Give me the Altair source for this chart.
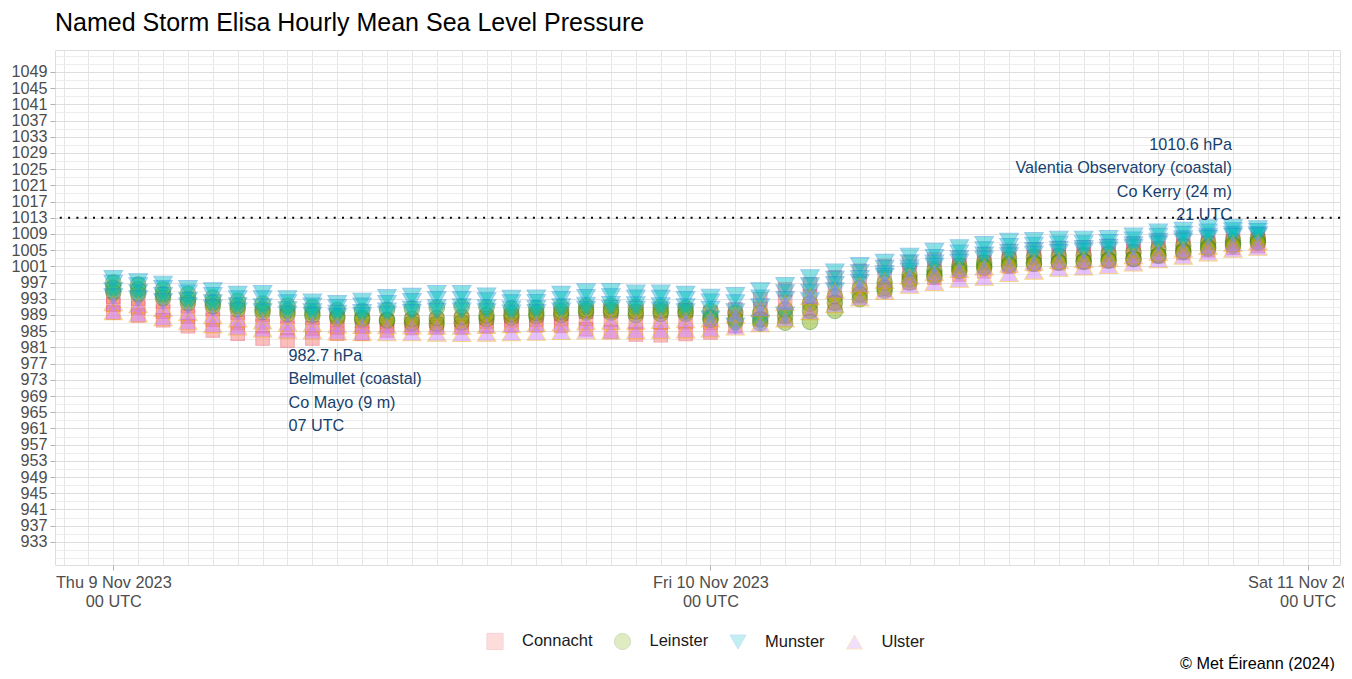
import altair as alt
import pandas as pd

# ---------------- data (hPa, hourly from 00 UTC Thu 9 Nov 2023) ----------------
hours = list(range(47))

provinces = ["Connacht", "Leinster", "Munster", "Ulster"]

connacht_knock = [993.5, 993.0, 992.2, 991.2, 990.5, 989.6, 989.0, 988.7, 988.3, 987.8, 987.5, 987.3,
                  987.5, 987.6, 987.8, 988.3, 988.7, 989.0, 989.3, 989.8, 990.0, 989.8, 990.0, 990.3,
                  989.5, 990.4, 992.9, 995.3, 996.6, 998.3, 999.9, 1001.1, 1002.0, 1002.7, 1003.2, 1004.0,
                  1004.8, 1005.2, 1005.5, 1005.7, 1006.0, 1006.6, 1007.3, 1007.8, 1008.4, 1008.8, 1008.9]
connacht_mace = [991.5, 990.8, 989.8, 988.6, 987.8, 987.0, 986.2, 985.8, 985.7, 985.9, 986.2, 986.4,
                 986.6, 986.8, 987.0, 987.4, 987.7, 987.9, 988.0, 988.1, 987.8, 987.3, 987.1, 987.2,
                 987.0, 988.5, 990.5, 992.2, 993.5, 995.0, 996.8, 998.3, 999.5, 1000.5, 1001.2, 1002.0,
                 1002.8, 1003.3, 1003.6, 1003.9, 1004.1, 1004.7, 1005.4, 1006.0, 1006.7, 1007.2, 1007.5]
connacht_belmullet = [989.6, 988.9, 987.7, 986.2, 985.2, 984.4, 983.2, 982.7, 983.2, 984.4, 984.4, 985.2,
                      985.8, 986.0, 986.0, 986.3, 986.5, 986.5, 986.3, 985.5, 984.8, 984.2, 984.0, 984.3,
                      984.7, 986.3, 987.9, 988.7, 990.4, 992.0, 993.7, 995.3, 997.0, 998.2, 999.0, 999.8,
                      1001.0, 1001.5, 1001.8, 1002.0, 1002.3, 1002.8, 1003.5, 1004.3, 1005.0, 1005.6, 1006.0]

leinster_dublin = [997.0, 996.5, 995.3, 994.2, 993.3, 992.5, 991.8, 991.3, 990.9, 990.2, 990.0, 990.3,
                   990.6, 990.8, 991.0, 990.9, 990.6, 990.7, 991.0, 991.2, 991.3, 991.0, 991.0, 990.7,
                   990.0, 989.5, 989.5, 990.3, 991.8, 993.6, 995.6, 997.0, 998.8, 1000.0, 1001.2, 1002.0,
                   1002.9, 1003.3, 1003.5, 1003.7, 1004.0, 1004.5, 1005.3, 1006.1, 1006.9, 1007.4, 1007.9]
leinster_mullingar = [995.7, 995.3, 994.1, 992.9, 992.0, 991.2, 990.4, 990.0, 989.6, 988.7, 988.3, 987.8,
                      987.0, 986.8, 987.2, 988.0, 988.4, 988.7, 989.0, 989.6, 989.6, 989.0, 989.3, 989.3,
                      988.3, 987.9, 987.9, 988.7, 990.0, 992.0, 994.1, 995.7, 997.8, 999.0, 1000.3, 1001.1,
                      1001.6, 1001.9, 1002.1, 1002.3, 1002.6, 1002.9, 1003.8, 1004.8, 1005.8, 1006.6, 1007.2]
leinster_oakpark = [994.6, 994.2, 993.2, 992.0, 991.2, 990.4, 989.7, 989.2, 988.9, 988.2, 987.9, 987.6,
                    988.0, 988.2, 988.5, 988.9, 989.2, 989.5, 989.8, 990.2, 990.2, 989.8, 990.0, 989.9,
                    987.8, 987.3, 987.0, 987.1, 987.3, 990.0, 992.9, 995.0, 997.0, 998.5, 999.8, 1000.6,
                    1001.2, 1001.6, 1001.9, 1002.1, 1002.4, 1002.8, 1003.6, 1004.5, 1005.4, 1006.1, 1006.8]

munster_valentia = [998.0, 997.2, 996.6, 995.5, 995.0, 994.1, 994.3, 993.0, 992.2, 991.8, 992.4, 993.3,
                    993.6, 994.3, 994.3, 993.7, 993.1, 993.2, 994.1, 994.7, 994.8, 994.4, 994.4, 994.1,
                    993.4, 993.8, 995.0, 996.3, 998.2, 999.6, 1001.2, 1002.0, 1003.5, 1004.7, 1005.6, 1006.4,
                    1007.2, 1007.4, 1007.7, 1007.7, 1007.9, 1008.5, 1009.5, 1009.9, 1010.5, 1010.6, 1010.3]
munster_sherkin = [996.8, 996.2, 995.5, 994.4, 993.8, 993.0, 993.0, 992.0, 991.2, 990.8, 991.2, 991.8,
                   992.3, 992.8, 992.8, 992.5, 992.0, 992.1, 992.8, 993.3, 993.5, 993.2, 993.1, 992.8,
                   992.2, 992.0, 993.2, 994.5, 996.2, 997.8, 999.4, 1000.5, 1001.9, 1003.2, 1004.3, 1005.1,
                   1005.9, 1006.2, 1006.5, 1006.6, 1006.9, 1007.5, 1008.4, 1008.9, 1009.5, 1009.8, 1009.6]
munster_cork = [995.0, 994.5, 993.8, 992.6, 992.0, 991.3, 991.0, 990.3, 989.8, 989.4, 989.6, 990.0,
                990.4, 990.8, 991.0, 990.8, 990.5, 990.6, 991.0, 991.4, 991.6, 991.5, 991.3, 991.0,
                990.4, 989.8, 991.0, 992.8, 994.6, 996.5, 998.0, 999.2, 1000.6, 1001.8, 1002.9, 1003.8,
                1004.5, 1004.9, 1005.2, 1005.4, 1005.7, 1006.3, 1007.2, 1007.8, 1008.4, 1008.9, 1008.8]
munster_shannon = [993.5, 993.0, 992.3, 991.3, 990.7, 990.0, 989.8, 989.2, 988.9, 988.6, 988.8, 989.2,
                   989.6, 989.9, 990.0, 989.8, 989.5, 989.6, 990.0, 990.4, 990.6, 990.4, 990.2, 989.8,
                   988.0, 986.3, 987.0, 989.0, 992.5, 995.0, 997.0, 998.5, 999.8, 1001.0, 1002.0, 1002.8,
                   1003.6, 1004.0, 1004.4, 1004.7, 1005.0, 1005.6, 1006.5, 1007.2, 1007.9, 1008.4, 1008.5]

ulster_malin = [992.0, 991.5, 990.6, 989.6, 988.8, 988.0, 987.5, 987.0, 986.8, 986.5, 986.4, 986.3,
                986.3, 986.2, 986.2, 986.4, 986.6, 986.8, 987.0, 987.3, 987.4, 987.4, 987.6, 987.8,
                988.0, 989.0, 990.5, 992.0, 993.5, 995.0, 996.4, 997.5, 998.6, 999.4, 1000.2, 1000.8,
                1001.5, 1002.0, 1002.4, 1002.7, 1003.0, 1003.6, 1004.4, 1005.2, 1005.9, 1006.6, 1007.0]
ulster_finner = [989.8, 989.2, 988.3, 987.3, 986.6, 986.0, 985.5, 985.2, 985.0, 984.8, 984.6, 984.6,
                 984.6, 984.5, 984.4, 984.5, 984.6, 984.7, 984.9, 985.0, 985.0, 985.1, 985.2, 985.3,
                 985.5, 986.0, 986.8, 988.0, 989.8, 991.5, 993.2, 994.8, 996.3, 997.0, 997.8, 998.3,
                 999.2, 999.8, 1000.5, 1000.8, 1001.2, 1001.8, 1002.6, 1003.5, 1004.3, 1005.2, 1005.7]

stations = [
    ("Connacht", "Knock Airport", connacht_knock),
    ("Connacht", "Mace Head", connacht_mace),
    ("Connacht", "Belmullet", connacht_belmullet),
    ("Leinster", "Dublin Airport", leinster_dublin),
    ("Leinster", "Mullingar", leinster_mullingar),
    ("Leinster", "Oak Park", leinster_oakpark),
    ("Munster", "Valentia Observatory", munster_valentia),
    ("Munster", "Sherkin Island", munster_sherkin),
    ("Munster", "Cork Airport", munster_cork),
    ("Munster", "Shannon Airport", munster_shannon),
    ("Ulster", "Malin Head", ulster_malin),
    ("Ulster", "Finner", ulster_finner),
]

# annotations (min and max)
ann_hours = [7, 45]
ann_values = [982.7, 1010.6]
ann_station = ["Belmullet (coastal)", "Valentia Observatory (coastal)"]
ann_county = ["Co Mayo (9 m)", "Co Kerry (24 m)"]

# axis ticks
x_tick_hours = [0, 24, 48]
x_tick_day = ["Thu 9 Nov 2023", "Fri 10 Nov 2023", "Sat 11 Nov 2023"]
x_tick_time = ["00 UTC", "00 UTC", "00 UTC"]
y_labels = list(range(933, 1050, 4))
y_grid = list(range(929, 1055, 2))
x_grid = list(range(-2, 50))
msl_ref = 1013

# ---------------- styling ----------------
FONT = "Liberation Sans"
fill_range = ["#F8766D", "#7CAE00", "#00BFC4", "#C77CFF"]
stroke_range = ["#E8405A", "#2E7D00", "#1E90D8", "#F0A000"]
shape_range = ["square", "circle", "triangle-down", "triangle-up"]
size_of = {"Connacht": 180, "Leinster": 240, "Munster": 340, "Ulster": 330}
ANN_COLOR = "#173F6E"
LINE_H = 23.6

rows = []
for prov, name, vals in stations:
    for h, v in zip(hours, vals):
        rows.append({"province": prov, "station": name, "hour": h, "pressure": v,
                     "sz": size_of[prov]})
df = pd.DataFrame(rows)

ann_df = pd.DataFrame({
    "hour": ann_hours,
    "pressure": ann_values,
    "label": [f"{v:.1f} hPa\n{s}\n{c}\n{h % 24:02d} UTC"
              for v, s, c, h in zip(ann_values, ann_station, ann_county, ann_hours)],
})

label_expr = " : ".join(
    f"datum.value == {h} ? ['{d}', '{t}']" for h, d, t in zip(x_tick_hours, x_tick_day, x_tick_time)
) + " : ''"
x_major_test = " || ".join(f"datum.value == {h}" for h in x_tick_hours)
y_major_test = "indexof([" + ",".join(str(v) for v in y_labels) + "], datum.value) >= 0"

x_scale = alt.Scale(domain=[-2.343, 49.30], nice=False, zero=False)
y_scale = alt.Scale(domain=[927.3, 1054.4], nice=False, zero=False)

x_axis = alt.Axis(
    values=x_grid, tickCount=500, labelExpr=label_expr, title=None, domain=False,
    grid=True, gridColor="#E6E6E6", gridWidth=1,
    tickSize=5, tickColor="#B3B3B3",
    tickOpacity={"condition": {"test": x_major_test, "value": 1}, "value": 0},
    labelFont=FONT, labelFontSize=16.3, labelColor="#4D4D4D", labelLineHeight=18.5,
    labelPadding=4.5, labelOverlap=False, labelFlush=False, labelBound=False,
)
y_axis = alt.Axis(
    values=y_grid, tickCount=500, title=None, domain=False, format="d",
    labelExpr=f"{y_major_test} ? datum.label : ''",
    grid=True, gridWidth=1,
    gridColor={"condition": {"test": y_major_test, "value": "#DEDEDE"}, "value": "#ECECEC"},
    tickSize=5, tickColor="#B3B3B3",
    tickOpacity={"condition": {"test": y_major_test, "value": 1}, "value": 0},
    labelFont=FONT, labelFontSize=16.2, labelColor="#4D4D4D", labelPadding=3,
    labelOverlap=False, labelFlush=False,
)

legend = alt.Legend(
    title=None, orient="none", direction="horizontal", columns=4,
    legendX=431, legendY=582,
    labelFont=FONT, labelFontSize=16.5, labelColor="#1A1A1A",
    symbolSize=260, symbolStrokeWidth=1, symbolOpacity=0.24,
    labelOffset=18, columnPadding=18.5,
)

points = alt.Chart(df).mark_point(filled=True, opacity=0.46, strokeWidth=1.1).encode(
    x=alt.X("hour:Q", scale=x_scale, axis=x_axis),
    y=alt.Y("pressure:Q", scale=y_scale, axis=y_axis),
    fill=alt.Fill("province:N", scale=alt.Scale(domain=provinces, range=fill_range), legend=legend),
    stroke=alt.Stroke("province:N", scale=alt.Scale(domain=provinces, range=stroke_range), legend=legend),
    shape=alt.Shape("province:N", scale=alt.Scale(domain=provinces, range=shape_range), legend=legend),
    size=alt.Size("sz:Q", scale=None),
)

rule = alt.Chart(pd.DataFrame({"pressure": [msl_ref]})).mark_rule(
    color="black", strokeWidth=2, strokeDash=[2, 6.3], strokeCap="butt"
).encode(y=alt.Y("pressure:Q", scale=y_scale))

ann_min = alt.Chart(ann_df.iloc[[0]]).mark_text(
    align="left", baseline="top", lineBreak="\n", font=FONT, fontSize=16.2,
    lineHeight=LINE_H, color=ANN_COLOR, dx=1, dy=7,
).encode(x="hour:Q", y="pressure:Q", text="label:N")

ann_max = alt.Chart(ann_df.iloc[[1]]).mark_text(
    align="right", baseline="bottom", lineBreak="\n", font=FONT, fontSize=16.2,
    lineHeight=LINE_H, color=ANN_COLOR, dx=-1, dy=-4 - 3 * LINE_H,
).encode(x="hour:Q", y="pressure:Q", text="label:N")

caption = alt.Chart(pd.DataFrame({"t": ["© Met Éireann (2024)"]})).mark_text(
    align="right", baseline="alphabetic", font=FONT, fontSize=16.2, color="black",
).encode(x=alt.value(1280), y=alt.value(619), text="t:N")

chart = alt.layer(points, rule, ann_min, ann_max, caption).properties(
    width=1285, height=515,
    title=alt.TitleParams(
        "Named Storm Elisa Hourly Mean Sea Level Pressure", anchor="start", frame="group",
        font=FONT, fontSize=25, fontWeight="normal", color="black", offset=12,
    ),
    padding={"left": 47, "top": 42, "right": 4, "bottom": 106},
    autosize=alt.AutoSizeParams(type="none"),
).configure_view(stroke="#B3B3B3", strokeWidth=1).configure(font=FONT, background="white")

chart.save("out.html", embed_options={"renderer": "svg", "actions": False})
